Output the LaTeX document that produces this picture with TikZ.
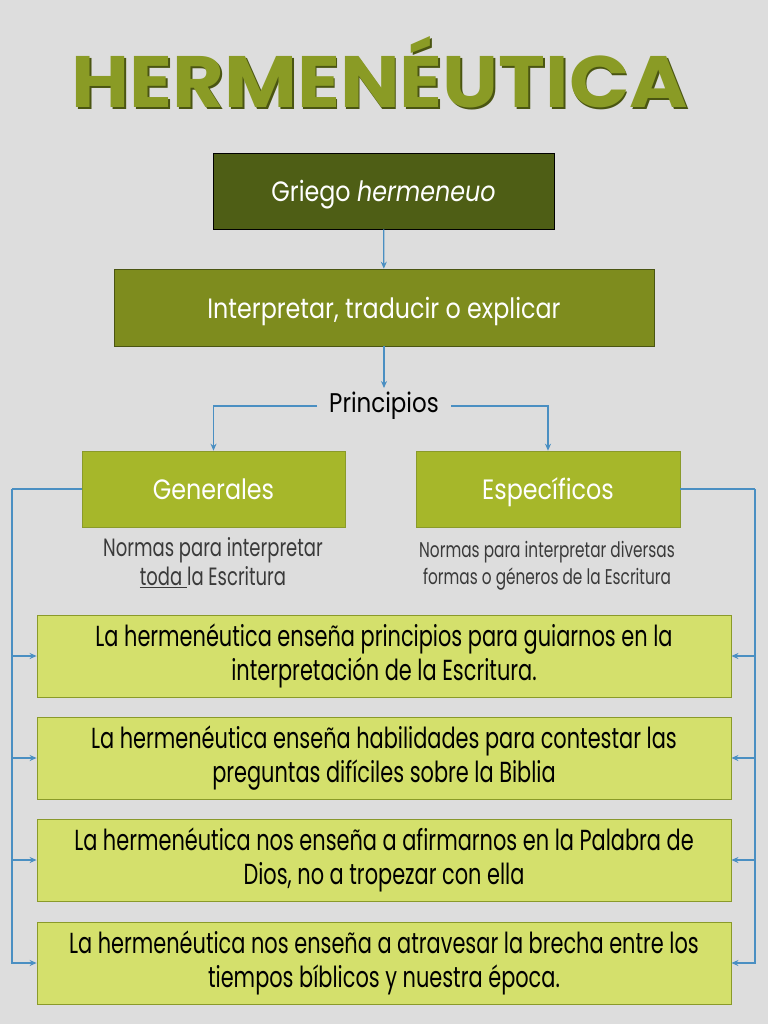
\documentclass[tikz,border=0pt]{standalone}
\usepackage{fontspec}
\setmainfont{Poppins}
\newfontfamily\condfont[FakeStretch=0.72]{Poppins}
\newfontfamily\medfont[FakeStretch=0.85]{Poppins}
\usetikzlibrary{arrows.meta}
\definecolor{fondo}{HTML}{DDDDDD}
\definecolor{azul}{HTML}{4A8FC2}
\definecolor{titulo}{HTML}{8A9B25}
\definecolor{sombra}{HTML}{4A5512}
\definecolor{olivo}{HTML}{4E5E15}
\definecolor{musgo}{HTML}{7E8C1E}
\definecolor{verde}{HTML}{A6B72A}
\definecolor{lima}{HTML}{D4E06C}
\definecolor{bordelima}{HTML}{8A9A2A}
\definecolor{nota}{HTML}{3A3A3A}

\begin{document}
\begin{tikzpicture}[x=1pt, y=-1pt,
    linea/.style={draw=azul, line width=1.2pt},
    enlace/.style={linea, -{Stealth[length=7pt,width=6pt]}},
    caja/.style={rectangle, inner sep=0pt, text=white, align=center,
      text height=24pt, text depth=3pt},
    idea/.style={rectangle, fill=lima, draw=bordelima, line width=0.8pt,
      minimum width=694pt, minimum height=82pt, align=center,
      font=\condfont\fontsize{29}{34}\selectfont}]
  \fill[fondo] (0,0) rectangle (768,1024);
  \useasboundingbox (0,0) rectangle (768,1024);
  % titulo
  \node[inner sep=0pt, text=sombra] at (381.5,74) {\resizebox{616pt}{71pt}{\bfseries HERMENÉUTICA}};
  \node[inner sep=0pt, text=titulo] (titulo) at (380,72.5) {\resizebox{616pt}{71pt}{\bfseries HERMENÉUTICA}};
  % cajas superiores
  \node[caja, fill=olivo, draw=black, line width=0.8pt, minimum width=341pt, minimum height=76pt,
    font=\medfont\fontsize{28}{30}\selectfont] (griego) at (383.5,191) {Griego \textit{hermeneuo}};
  \node[caja, fill=musgo, draw=sombra, line width=0.6pt, minimum width=540pt, minimum height=77pt,
    font=\medfont\fontsize{28}{30}\selectfont] (interp) at (384,307.5) {Interpretar, traducir o explicar};
  \node[inner xsep=12pt, inner ysep=4pt, font=\medfont\fontsize{27}{30}\selectfont] (prin) at (384,406) {Principios};
  \node[caja, fill=verde, draw=bordelima, line width=0.6pt, minimum width=263pt, minimum height=76pt,
    font=\medfont\fontsize{28}{30}\selectfont] (gen) at (213.5,489) {Generales};
  \node[caja, fill=verde, draw=bordelima, line width=0.6pt, minimum width=264pt, minimum height=76pt,
    font=\medfont\fontsize{28}{30}\selectfont] (esp) at (548,489) {Específicos};
  % notas
  \node[text=nota, align=center, font=\condfont\fontsize{25}{29}\selectfont] (notagen) at (213,563)
    {Normas para interpretar\\\underline{toda\ }la Escritura};
  \node[text=nota, align=center, font=\condfont\fontsize{21.3}{27}\selectfont] (notaesp) at (547,565.5)
    {Normas para interpretar diversas\\formas o géneros de la Escritura};
  % ideas
  \node[idea] (i1) at (384,656) {La hermenéutica enseña principios para guiarnos en la\\interpretación de la Escritura.};
  \node[idea] (i2) at (384,758) {La hermenéutica enseña habilidades para contestar las\\preguntas difíciles sobre la Biblia};
  \node[idea] (i3) at (384,860) {La hermenéutica nos enseña a afirmarnos en la Palabra de\\Dios, no a tropezar con ella};
  \node[idea] (i4) at (384,963) {La hermenéutica nos enseña a atravesar la brecha entre los\\tiempos bíblicos y nuestra época.};
  % conectores
  \draw[enlace] (griego) -- (interp);
  \draw[enlace] (interp) -- (prin);
  \draw[enlace] (prin.west) -| (gen.north);
  \draw[enlace] (prin.east) -| (esp.north);
  \coordinate (izq) at (12,489);
  \coordinate (der) at (755,489);
  \draw[linea] (gen.west) -- (izq);
  \draw[linea] (esp.east) -- (der);
  \foreach \b in {i1,i2,i3,i4} {
    \draw[enlace] (izq) |- (\b.west);
    \draw[enlace] (der) |- (\b.east);
  }
\end{tikzpicture}
\end{document}
